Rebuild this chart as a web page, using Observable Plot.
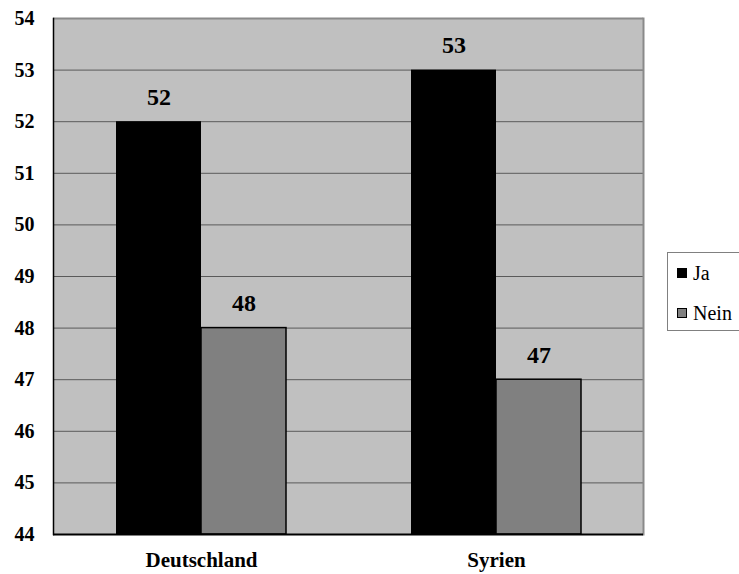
<!DOCTYPE html>
<html>
<head>
<meta charset="utf-8">
<script src="https://cdn.jsdelivr.net/npm/d3@7"></script>
<script src="https://cdn.jsdelivr.net/npm/@observablehq/plot@0.6"></script>
<style>
  html, body { margin: 0; padding: 0; background: #fff; overflow: hidden; }
  #wrap { position: relative; width: 739px; height: 574px; }
  #wrap svg, #wrap svg text { font-family: "Liberation Serif", "DejaVu Serif", serif !important; }
  #legend {
    position: absolute; left: 667px; top: 252px; width: 80px; height: 79px;
    border: 1px solid #808080; background: #fff; box-sizing: border-box;
    font-family: "Liberation Serif", "DejaVu Serif", serif; font-size: 20px; color: #000;
  }
  .item { position: absolute; left: 9px; display: flex; align-items: center; line-height: 1; }
  .sw { width: 10px; height: 10px; box-sizing: border-box; margin-right: 6px; }
</style>
</head>
<body>
<div id="wrap"><div id="legend"></div></div>
<script>
// Survey answers per country (percent)
const countries = ["Deutschland", "Syrien"];
const series = ["Ja", "Nein"];
const ja = [52, 53];
const nein = [48, 47];
const yTicks = [44, 45, 46, 47, 48, 49, 50, 51, 52, 53, 54];

const fills = {Ja: "#000000", Nein: "#808080"};
const serif = "Liberation Serif";

const rows = countries.flatMap((c, i) => [
  {country: c, series: "Ja", value: ja[i]},
  {country: c, series: "Nein", value: nein[i]}
]);
const jaRows = rows.filter(d => d.series === "Ja");
const neinRows = rows.filter(d => d.series === "Nein");
const yMin = yTicks[0];
const yMax = yTicks[yTicks.length - 1];

// Each country band holds two bars side by side: half a band each
const half = 85;

const valueLabel = {
  x: "country", y: "value", text: d => String(d.value),
  lineAnchor: "bottom", dy: -17,
  fontFamily: serif, fontSize: 24, fontWeight: "bold", fill: "#000"
};

const chart = Plot.plot({
  width: 739,
  height: 574,
  marginLeft: 53,
  marginRight: 96,
  marginTop: 18,
  marginBottom: 40,
  style: {background: "transparent"},
  x: {domain: countries, paddingInner: 0.424, paddingOuter: 0.21, label: null},
  y: {domain: [yMin, yMax], label: null},
  marks: [
    Plot.frame({fill: "#c0c0c0"}),
    Plot.gridY(yTicks, {stroke: "#5a5a5a", strokeOpacity: 1, strokeWidth: 1}),
    Plot.barY(jaRows, {
      x: "country", y1: yMin, y2: "value", fill: fills.Ja, insetRight: half
    }),
    Plot.barY(neinRows, {
      x: "country", y1: yMin, y2: "value", fill: fills.Nein, stroke: "#000",
      strokeWidth: 1.5, insetLeft: half
    }),
    Plot.ruleY([yMax], {stroke: "#8a8a8a", strokeWidth: 2}),
    Plot.frame({anchor: "right", stroke: "#8a8a8a", strokeWidth: 2}),
    Plot.ruleY([yMin], {stroke: "#000", strokeWidth: 2}),
    Plot.frame({anchor: "left", stroke: "#000", strokeWidth: 1.5}),
    Plot.text(jaRows, {...valueLabel, dx: -half / 2}),
    Plot.text(neinRows, {...valueLabel, dx: half / 2}),
    Plot.axisY(yTicks, {
      tickSize: 0, tickPadding: 19, fontSize: 20, fontWeight: "bold",
      tickFormat: d => String(d), label: null, fill: "#000"
    }),
    Plot.axisX({
      tickSize: 0, tickPadding: 18, fontSize: 21, fontWeight: "bold",
      label: null, fill: "#000"
    })
  ]
});
document.getElementById("wrap").prepend(chart);

const legend = document.getElementById("legend");
series.forEach((s, i) => {
  const item = document.createElement("div");
  item.className = "item";
  item.style.top = (10 + i * 40) + "px";
  const sw = document.createElement("span");
  sw.className = "sw";
  sw.style.background = fills[s];
  sw.style.border = "1px solid #000";
  const label = document.createElement("span");
  label.textContent = s;
  item.append(sw, label);
  legend.append(item);
});
</script>
</body>
</html>
